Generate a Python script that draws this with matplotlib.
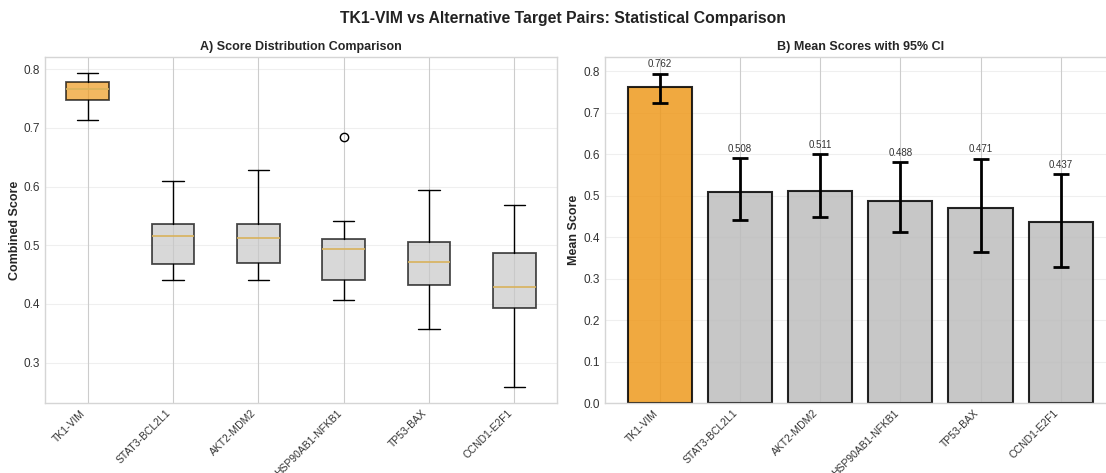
import matplotlib
matplotlib.use("Agg")
import matplotlib.pyplot as plt
import numpy as np

plt.style.use("seaborn-v0_8-whitegrid")
plt.rcParams["font.family"] = ["Liberation Sans", "DejaVu Sans"]

pairs = ["TK1-VIM", "STAT3-BCL2L1", "AKT2-MDM2", "HSP90AB1-NFKB1", "TP53-BAX", "CCND1-E2F1"]

# Box plot summary statistics per pair
whisker_low = [0.714, 0.440, 0.441, 0.407, 0.357, 0.258]
q1 = [0.748, 0.468, 0.470, 0.441, 0.432, 0.393]
median = [0.767, 0.515, 0.512, 0.494, 0.472, 0.428]
q3 = [0.778, 0.537, 0.537, 0.511, 0.505, 0.486]
whisker_high = [0.794, 0.610, 0.628, 0.541, 0.595, 0.568]
outliers = [[], [], [], [0.685], [], []]

# Mean scores and 95% confidence bounds
mean_score = [0.762, 0.508, 0.511, 0.488, 0.471, 0.437]
ci_low = [0.724, 0.442, 0.449, 0.412, 0.363, 0.329]
ci_high = [0.794, 0.590, 0.600, 0.581, 0.589, 0.552]

highlight = "#EE9A1E"
neutral_box = "#c8c8c8"
neutral_bar = "#bdbdbd"

W, H = 1106, 473
fig = plt.figure(figsize=(W / 100, H / 100), dpi=100)
ax1 = fig.add_axes([45 / W, 70 / H, 512 / W, 346 / H])
ax2 = fig.add_axes([604.5 / W, 70 / H, 511.5 / W, 346 / H])

for ax in (ax1, ax2):
    for s in ax.spines.values():
        s.set_edgecolor("#d5d5d5")
        s.set_linewidth(1.0)

# --- A) box plots ---
stats = []
for i, name in enumerate(pairs):
    stats.append(dict(label=name, whislo=whisker_low[i], q1=q1[i], med=median[i],
                      q3=q3[i], whishi=whisker_high[i], fliers=outliers[i]))
bp = ax1.bxp(stats, positions=np.arange(1, len(pairs) + 1), patch_artist=True,
             showfliers=True,
             medianprops=dict(color="#d9b25c", linewidth=1.2),
             whiskerprops=dict(color="black", linewidth=1.0),
             capprops=dict(color="black", linewidth=1.0),
             flierprops=dict(marker="o", markerfacecolor="none",
                             markeredgecolor="black", markersize=6))
for i, box in enumerate(bp["boxes"]):
    box.set_facecolor(highlight if i == 0 else neutral_box)
    box.set_edgecolor("black")
    box.set_linewidth(1.3)
    box.set_alpha(0.7)

ax1.set_ylabel("Combined Score", fontsize=9, fontweight="bold", labelpad=2)
ax1.set_title("A) Score Distribution Comparison", fontsize=9, fontweight="bold", pad=5)
ax1.set_xticks(np.arange(1, len(pairs) + 1))
ax1.set_xticklabels(pairs, rotation=45, ha="right", fontsize=7.5, color="#333333")
ax1.tick_params(axis="y", labelsize=8.5, labelcolor="#333333")
ax1.grid(axis="y", alpha=0.3)
ax1.set_ylim(0.231, 0.821)

# --- B) bar chart with CI ---
x = np.arange(len(pairs))
mean_arr = np.array(mean_score)
err = np.vstack([mean_arr - np.array(ci_low), np.array(ci_high) - mean_arr])
bar_colors = [highlight] + [neutral_bar] * (len(pairs) - 1)
ax2.bar(x, mean_arr, width=0.8, color=bar_colors, edgecolor="black",
        linewidth=1.5, alpha=0.85,
        yerr=err, capsize=6, error_kw=dict(elinewidth=2, capthick=2, ecolor="black"))
for i in range(len(pairs)):
    ax2.text(x[i], ci_high[i] + 0.01, f"{mean_score[i]:.3f}", ha="center",
             va="bottom", fontsize=7, color="#333333")

ax2.set_ylabel("Mean Score", fontsize=9, fontweight="bold", labelpad=2)
ax2.set_title("B) Mean Scores with 95% CI", fontsize=9, fontweight="bold", pad=5)
ax2.set_xticks(x)
ax2.set_xticklabels(pairs, rotation=45, ha="right", fontsize=7.5, color="#333333")
ax2.tick_params(axis="y", labelsize=8.5, labelcolor="#333333")
ax2.grid(axis="y", alpha=0.3)
ax2.set_xlim(-0.69, 5.69)
ax2.set_ylim(0, 0.834)

fig.suptitle("TK1-VIM vs Alternative Target Pairs: Statistical Comparison",
             fontsize=11.3, fontweight="bold", x=0.509, y=0.977, color="#222222")

fig.savefig("out.png", dpi=100)
